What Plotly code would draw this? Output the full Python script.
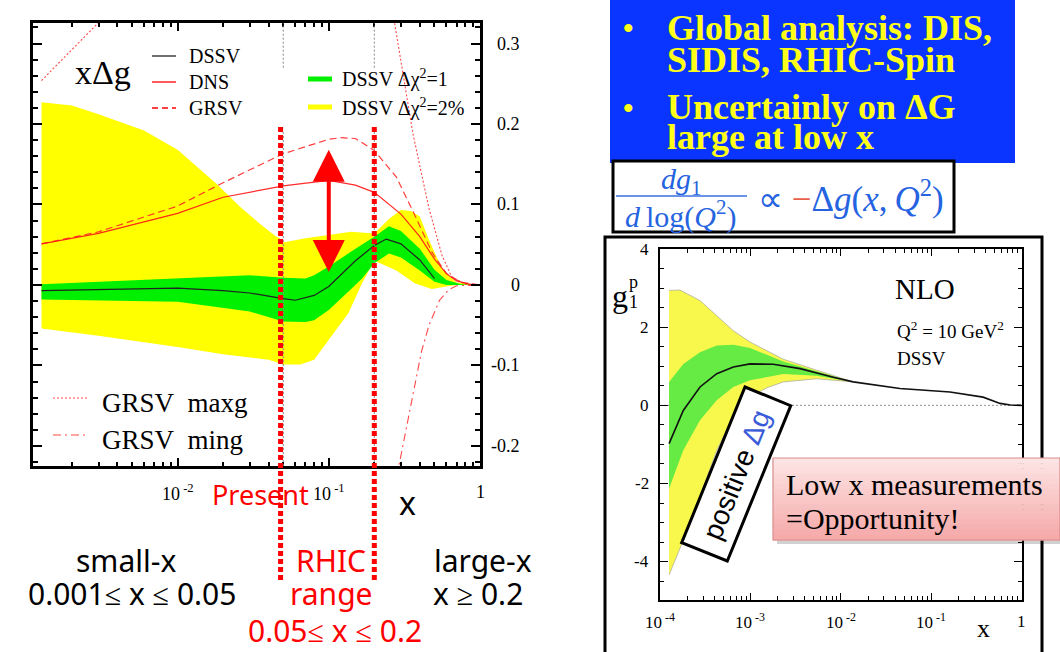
import numpy as np
import plotly.graph_objects as go

W, H = 1060, 652
def px(x): return x / W
def py(y): return 1 - y / H

# ---------------- Left panel: x*Delta g ----------------
yel_up_x = [0.00126, 0.002, 0.003, 0.006, 0.01, 0.018, 0.026, 0.035, 0.045, 0.0475, 0.048, 0.07, 0.1, 0.14, 0.2, 0.25, 0.3, 0.35, 0.4, 0.46, 0.56, 0.7, 1.0]
yel_up_y = [0.227, 0.223, 0.212, 0.192, 0.168, 0.126, 0.097, 0.076, 0.060, 0.058, 0.052, 0.058, 0.062, 0.066, 0.064, 0.082, 0.093, 0.092, 0.085, 0.056, 0.020, 0.003, 0.0]
yel_lo_x = [0.00126, 0.003, 0.01, 0.02, 0.03, 0.04, 0.05, 0.065, 0.08, 0.1, 0.135, 0.166, 0.2, 0.23, 0.28, 0.37, 0.48, 0.6, 0.7, 1.0]
yel_lo_y = [-0.054, -0.063, -0.077, -0.086, -0.090, -0.093, -0.099, -0.099, -0.093, -0.068, -0.035, 0.002, 0.030, 0.025, 0.018, 0.002, -0.005, -0.002, 0.0, 0.0]

grn_up_x = [0.00126, 0.01, 0.03, 0.05, 0.07, 0.08, 0.1, 0.15, 0.2, 0.25, 0.3, 0.4, 0.5, 0.6, 0.75, 1.0]
grn_up_y = [0.001, 0.008, 0.012, 0.009, 0.008, 0.012, 0.023, 0.045, 0.060, 0.073, 0.067, 0.045, 0.019, 0.006, 0.001, 0.0]
grn_lo_x = [0.00126, 0.01, 0.03, 0.05, 0.07, 0.08, 0.1, 0.135, 0.166, 0.2, 0.25, 0.3, 0.4, 0.5, 0.6, 1.0]
grn_lo_y = [-0.018, -0.021, -0.033, -0.0455, -0.046, -0.044, -0.031, -0.008, 0.008, 0.027, 0.039, 0.034, 0.018, 0.004, 0.0, 0.0]

dssv_x = [0.00126, 0.003, 0.01, 0.02, 0.03, 0.05, 0.06, 0.08, 0.1, 0.15, 0.2, 0.24, 0.3, 0.4, 0.5]
dssv_y = [-0.007, -0.006, -0.004, -0.007, -0.010, -0.017, -0.019, -0.013, -0.002, 0.030, 0.049, 0.057, 0.051, 0.031, 0.008]

dns_x = [0.00126, 0.003, 0.01, 0.02, 0.05, 0.1, 0.15, 0.2, 0.3, 0.4, 0.5, 0.6, 0.7, 0.85, 1.0]
dns_y = [0.051, 0.064, 0.089, 0.109, 0.123, 0.130, 0.124, 0.115, 0.088, 0.060, 0.032, 0.014, 0.005, 0.001, 0.0]

grsv_x = [0.00126, 0.003, 0.01, 0.02, 0.05, 0.1, 0.12, 0.15, 0.2, 0.28, 0.37, 0.48, 0.6, 0.75, 1.0]
grsv_y = [0.051, 0.066, 0.098, 0.127, 0.163, 0.181, 0.183, 0.182, 0.167, 0.134, 0.087, 0.041, 0.014, 0.003, 0.0]

maxg_x = [0.00126, 0.002, 0.003, 0.005, 0.02, 0.1, 0.2, 0.27, 0.36, 0.46, 0.56, 0.65, 0.8, 1.0]
maxg_y = [0.254, 0.292, 0.326, 0.38, 0.55, 0.62, 0.48, 0.33, 0.188, 0.095, 0.037, 0.010, 0.001, 0.0]

ming_x = [0.1, 0.2, 0.29, 0.35, 0.41, 0.46, 0.54, 0.62, 0.7, 1.0]
ming_y = [-0.70, -0.42, -0.226, -0.15, -0.083, -0.050, -0.019, -0.006, -0.001, 0.0]

rhic_bounds = [0.048, 0.2]
grid_marks = [0.05, 0.2]
arrow_x = 0.1
arrow_y = [0.016, 0.170]

left_yticks = [0.3, 0.2, 0.1, 0.0, -0.1, -0.2]
left_yticktext = ["0.3", "0.2", "0.1", "0", "-0.1", "-0.2"]
left_xticks = [0.01, 0.1, 1]
left_xticktext = ["10<sup>\u00a0-2</sup>", "10<sup>\u00a0-1</sup>", "1"]

# ---------------- Right panel: g1p ----------------
r_x = [1.26e-4, 1.81e-4, 2.77e-4, 4.24e-4, 6.47e-4, 9.9e-4, 1.79e-3, 3.54e-3, 8.26e-3, 0.0137, 0.045, 0.161, 0.374, 0.577, 0.75, 1.0]
r_c = [-0.98, -0.13, 0.47, 0.81, 0.98, 1.06, 1.05, 0.94, 0.72, 0.60, 0.43, 0.34, 0.21, 0.05, 0.01, 0.0]

r_yup_x = [1.26e-4, 1.66e-4, 2.77e-4, 4.24e-4, 6.47e-4, 9.9e-4, 2.31e-3, 5.4e-3, 0.0137]
r_yup_y = [2.94, 2.95, 2.68, 2.30, 1.91, 1.62, 1.18, 0.90, 0.60]
r_ylo_x = [1.26e-4, 1.81e-4, 2.77e-4, 4.24e-4, 6.47e-4, 9.9e-4, 1.52e-3, 2.31e-3, 5.4e-3, 0.0137]
r_ylo_y = [-4.34, -3.45, -2.34, -1.15, -0.30, 0.21, 0.45, 0.60, 0.68, 0.60]
r_gup_x = [1.26e-4, 1.81e-4, 2.77e-4, 4.24e-4, 6.47e-4, 9.9e-4, 2.31e-3, 5.4e-3, 0.0137]
r_gup_y = [0.60, 1.06, 1.36, 1.53, 1.55, 1.47, 1.12, 0.87, 0.60]
r_glo_x = [1.26e-4, 1.81e-4, 2.77e-4, 4.24e-4, 6.47e-4, 9.9e-4, 2.31e-3, 5.4e-3, 0.0137]
r_glo_y = [-2.13, -1.15, -0.38, 0.13, 0.47, 0.64, 0.80, 0.76, 0.60]

right_xticks = [1e-4, 1e-3, 1e-2, 1e-1, 1]
right_xticktext = ["10<sup>\u00a0-4</sup>", "10<sup>\u00a0-3</sup>", "10<sup>\u00a0-2</sup>", "10<sup>\u00a0-1</sup>", "1"]
right_yticks = [4, 2, 0, -2, -4]
right_yticktext = ["4", "2", "0", "-2", "-4"]

left_minor = [m * 10.0**e for e in (-3, -2, -1) for m in range(2, 10) if m * 10.0**e > 0.0011]
right_minor = [m * 10.0**e for e in (-4, -3, -2, -1) for m in range(2, 10)]

SERIF = "Liberation Serif"
SANS = "Noto Sans"
RED = "#ff0000"

fig = go.Figure()

def band(xu, yu, xl, yl, color, xa, ya, outline=None):
    fig.add_trace(go.Scatter(
        x=list(xu) + list(xl)[::-1], y=list(yu) + list(yl)[::-1],
        fill="toself", fillcolor=color, mode="lines",
        line=dict(width=0.8 if outline else 0, color=outline or color),
        hoverinfo="skip", showlegend=False, xaxis=xa, yaxis=ya))

band(yel_up_x, yel_up_y, yel_lo_x, yel_lo_y, "#ffff00", "x", "y")
band(grn_up_x, grn_up_y, grn_lo_x, grn_lo_y, "#00f000", "x", "y")

def line(x, y, color, width, dash, xa="x", ya="y"):
    fig.add_trace(go.Scatter(x=x, y=y, mode="lines",
                             line=dict(color=color, width=width, dash=dash),
                             hoverinfo="skip", showlegend=False, xaxis=xa, yaxis=ya))

line(maxg_x, maxg_y, "rgba(255,40,40,0.85)", 1.1, "2px,2px")
line(ming_x, ming_y, "rgba(255,40,40,0.85)", 1.1, "8px,4px,2px,4px")
line(grsv_x, grsv_y, "rgba(255,40,40,0.9)", 1.2, "7px,4px")
line(dns_x, dns_y, "rgba(255,20,20,0.9)", 1.2, "solid")
line(dssv_x, dssv_y, "#222222", 1.2, "solid")

line([1e-4, 1], [0, 0], "#777777", 0.8, "2px,2px", "x2", "y2")
band(r_yup_x, r_yup_y, r_ylo_x, r_ylo_y, "#f8f84c", "x2", "y2", outline="#b0b0a0")
band(r_gup_x, r_gup_y, r_glo_x, r_glo_y, "#66ea44", "x2", "y2")
line(r_x, r_c, "#111111", 1.6, "solid", "x2", "y2")

shapes = []
annots = []

shapes.append(dict(type="rect", xref="paper", yref="paper", x0=px(610), x1=px(1015), y0=py(163), y1=py(0),
                   fillcolor="#0a34ff", line=dict(width=0), layer="below"))
shapes.append(dict(type="rect", xref="paper", yref="paper", x0=px(613), x1=px(954), y0=py(232), y1=py(161),
                   fillcolor="white", line=dict(width=3, color="black"), layer="below"))
shapes.append(dict(type="line", xref="paper", yref="paper", x0=px(616), x1=px(747), y0=py(196), y1=py(196),
                   line=dict(width=1.5, color="#3a6fe0")))
shapes.append(dict(type="rect", xref="paper", yref="paper", x0=px(605), x1=px(1042), y0=py(660), y1=py(237),
                   fillcolor="rgba(0,0,0,0)", line=dict(width=3, color="black")))

for gx in grid_marks:
    shapes.append(dict(type="line", xref="x", yref="y", x0=gx, x1=gx, y0=0.27, y1=0.3255,
                       line=dict(width=1, color="#888888", dash="2px,2px")))
    shapes.append(dict(type="line", xref="x", yref="y", x0=gx, x1=gx, y0=-0.225, y1=0.19,
                       line=dict(width=1, color="#888888", dash="2px,2px")))
for bx in rhic_bounds:
    shapes.append(dict(type="line", xref="x", yref="paper", x0=bx, x1=bx, y0=py(580), y1=py(127),
                       line=dict(width=5, color=RED, dash="5px,3px")))

shapes.append(dict(type="line", xref="paper", yref="paper", x0=px(152), x1=px(176), y0=py(56), y1=py(56),
                   line=dict(width=1.3, color="#222222")))
shapes.append(dict(type="line", xref="paper", yref="paper", x0=px(152), x1=px(176), y0=py(82), y1=py(82),
                   line=dict(width=1.3, color=RED)))
shapes.append(dict(type="line", xref="paper", yref="paper", x0=px(152), x1=px(176), y0=py(108), y1=py(108),
                   line=dict(width=1.5, color=RED, dash="6px,4px")))
shapes.append(dict(type="rect", xref="paper", yref="paper", x0=px(308), x1=px(332), y0=py(81.5), y1=py(76.5),
                   fillcolor="#00f000", line=dict(width=0)))
shapes.append(dict(type="rect", xref="paper", yref="paper", x0=px(308), x1=px(332), y0=py(109.5), y1=py(104.5),
                   fillcolor="#ffff00", line=dict(width=0)))
shapes.append(dict(type="line", xref="paper", yref="paper", x0=px(53), x1=px(88), y0=py(398), y1=py(398),
                   line=dict(width=1.1, color="rgba(255,40,40,0.85)", dash="2px,2px")))
shapes.append(dict(type="line", xref="paper", yref="paper", x0=px(53), x1=px(88), y0=py(435), y1=py(435),
                   line=dict(width=1.1, color="rgba(255,40,40,0.85)", dash="8px,4px,2px,4px")))

shapes.append(dict(type="rect", xref="paper", yref="paper", x0=px(777), x1=px(1064), y0=py(544), y1=py(462),
                   fillcolor="rgba(0,0,0,0.18)", line=dict(width=0)))
n = 16
top_c = np.array([253, 228, 228])
bot_c = np.array([246, 170, 170])
for i in range(n):
    c = top_c + (bot_c - top_c) * i / (n - 1)
    y0 = 458 + (540 - 458) * i / n
    y1 = 458 + (540 - 458) * (i + 1) / n
    shapes.append(dict(type="rect", xref="paper", yref="paper", x0=px(773), x1=px(1060), y0=py(y1 + 0.5), y1=py(y0),
                       fillcolor="rgb(%d,%d,%d)" % tuple(c), line=dict(width=0)))
shapes.append(dict(type="rect", xref="paper", yref="paper", x0=px(773), x1=px(1060), y0=py(540), y1=py(458),
                   fillcolor="rgba(0,0,0,0)", line=dict(width=1.2, color="#d98c8c")))

pts = [(745, 387), (790.7, 405.7), (727.3, 561), (681.7, 542.7)]
path = "M " + " L ".join("%.5f,%.5f" % (px(a), py(b)) for a, b in pts) + " Z"
shapes.append(dict(type="path", xref="paper", yref="paper", path=path,
                   fillcolor="white", line=dict(width=3, color="black"), layer="above"))

def txt(x, y, text, size, color="black", family=SERIF, xanchor="center", yanchor="middle", angle=0, xref="paper", yref="paper"):
    annots.append(dict(x=x, y=y, xref=xref, yref=yref, text=text, showarrow=False,
                       font=dict(size=size, color=color, family=family),
                       xanchor=xanchor, yanchor=yanchor, textangle=angle))

YEL = "#ffff1a"
bold = lambda s: "<b>" + s + "</b>"
txt(px(628), py(28), bold("•"), 30, YEL)
txt(px(628), py(107), bold("•"), 30, YEL)
txt(px(665), py(28), bold("Global analysis: DIS,"), 36, YEL, xanchor="left")
txt(px(665), py(60), bold("SIDIS, RHIC-Spin"), 36, YEL, xanchor="left")
txt(px(665), py(107), bold("Uncertainly on ΔG"), 36, YEL, xanchor="left")
txt(px(665), py(137), bold("large at low x"), 36, YEL, xanchor="left")

BLUE = "#2563e0"
txt(px(681), py(181), "<i>dg</i><sub>1</sub>", 30, BLUE)
txt(px(681), py(214), "<i>d</i>\u2009log(<i>Q</i><sup>2</sup>)", 30, BLUE)
txt(px(756), py(196), "∝ <span style='color:#e8604c'>−</span>Δ<i>g</i>(<i>x</i>,\u2009<i>Q</i><sup>2</sup>)", 35, BLUE, xanchor="left")

txt(px(103), py(72), "xΔg", 34)
txt(px(187), py(56), "DSSV", 20, xanchor="left")
txt(px(187), py(82), "DNS", 20, xanchor="left")
txt(px(187), py(108), "GRSV", 20, xanchor="left")
txt(px(340), py(79), "DSSV Δχ<sup>2</sup>=1", 20, xanchor="left")
txt(px(340), py(107), "DSSV Δχ<sup>2</sup>=2%", 20, xanchor="left")
txt(px(100), py(403), "GRSV\u00a0 maxg", 27, xanchor="left")
txt(px(100), py(440), "GRSV\u00a0 ming", 27, xanchor="left")

# tick labels (as annotations, positioned by the axes)
for v, t in zip(left_yticks, left_yticktext):
    txt(px(522), v, t, 18, xanchor="right", yref="y")
for v, t in zip(left_xticks, left_xticktext):
    txt(np.log10(v), py(492), t, 18, xref="x")
for v, t in zip(right_xticks, right_xticktext):
    txt(np.log10(v), py(621), t, 17, xref="x2")
for v, t in zip(right_yticks, right_yticktext):
    txt(px(651), v, t, 17, xanchor="right", yref="y2")

annots.append(dict(x=np.log10(arrow_x), y=arrow_y[0], ax=np.log10(arrow_x), ay=arrow_y[1],
                   xref="x", yref="y", axref="x", ayref="y", text="", showarrow=True,
                   arrowhead=2, arrowside="end+start", arrowsize=1.6, arrowwidth=4, arrowcolor=RED))

txt(px(260), py(495), "Present", 27, RED, SANS)
txt(px(407), py(502), "x", 32, "black", SANS)
txt(px(126), py(560), "small-x", 30, "black", SANS)
txt(px(132), py(593), "0.001≤ x ≤ 0.05", 30, "black", SANS)
txt(px(331), py(560), "RHIC", 30, RED, SANS)
txt(px(331), py(593), "range", 30, RED, SANS)
txt(px(335), py(630), "0.05≤ x ≤ 0.2", 30, RED, SANS)
txt(px(483), py(560), "large-x", 30, "black", SANS)
txt(px(478), py(593), "x ≥ 0.2", 30, "black", SANS)

txt(px(925), py(289), "NLO", 29)
txt(px(895), py(330), "Q<sup>2</sup> = 10 GeV<sup>2</sup>", 19, xanchor="left")
txt(px(895), py(358), "DSSV", 19, xanchor="left")
txt(px(620), py(296), "g", 32)
txt(px(633), py(282), "p", 18)
txt(px(633), py(302), "1", 18)
txt(px(983), py(628), "x", 26)
txt(px(736), py(475), "positive <span style='color:#3a5bd9'>Δg</span>", 28, "black", "Liberation Sans", angle=-68)

txt(px(784), py(484), "Low x measurements", 30, xanchor="left")
txt(px(784), py(518), "=Opportunity!", 30, xanchor="left")

ax_common = dict(showline=True, linecolor="black", mirror="allticks", ticks="inside",
                 showgrid=False, zeroline=False, tickcolor="black", automargin=False,
                 showticklabels=False)

fig.update_layout(
    width=W, height=H, margin=dict(l=0, r=0, t=0, b=0, pad=0, autoexpand=False),
    paper_bgcolor="white", plot_bgcolor="white", showlegend=False,
    xaxis=dict(type="log", range=[-2.956, 0], domain=[px(33), px(480)], anchor="y",
               linewidth=2.5, ticklen=8, tickwidth=1.5, tickvals=left_xticks,
               minor=dict(tickvals=left_minor, ticks="inside", ticklen=4, tickwidth=1.5, tickcolor="black"),
               **ax_common),
    yaxis=dict(range=[-0.225, 0.3255], domain=[py(466), py(23)], anchor="x",
               linewidth=2.5, ticklen=9, tickwidth=1.5, tick0=0, dtick=0.1,
               minor=dict(dtick=0.02, tick0=0, ticks="inside", ticklen=5, tickwidth=1.5, tickcolor="black"),
               **ax_common),
    xaxis2=dict(type="log", range=[-4, 0], domain=[px(660), px(1021.7)], anchor="y2",
                linewidth=1.6, ticklen=7, tickwidth=1, tickvals=right_xticks,
                minor=dict(tickvals=right_minor, ticks="inside", ticklen=4, tickwidth=1, tickcolor="black"),
                **ax_common),
    yaxis2=dict(range=[-4.98, 4], domain=[py(600), py(249)], anchor="x2",
                linewidth=1.6, ticklen=8, tickwidth=1, tick0=0, dtick=2,
                minor=dict(dtick=0.5, tick0=0, ticks="inside", ticklen=4, tickwidth=1, tickcolor="black"),
                **ax_common),
    shapes=shapes, annotations=annots,
)

fig.write_html("out.html", config={"displayModeBar": False},
               post_script="document.body.style.margin='0';document.body.style.padding='0';document.body.style.overflow='hidden';")
